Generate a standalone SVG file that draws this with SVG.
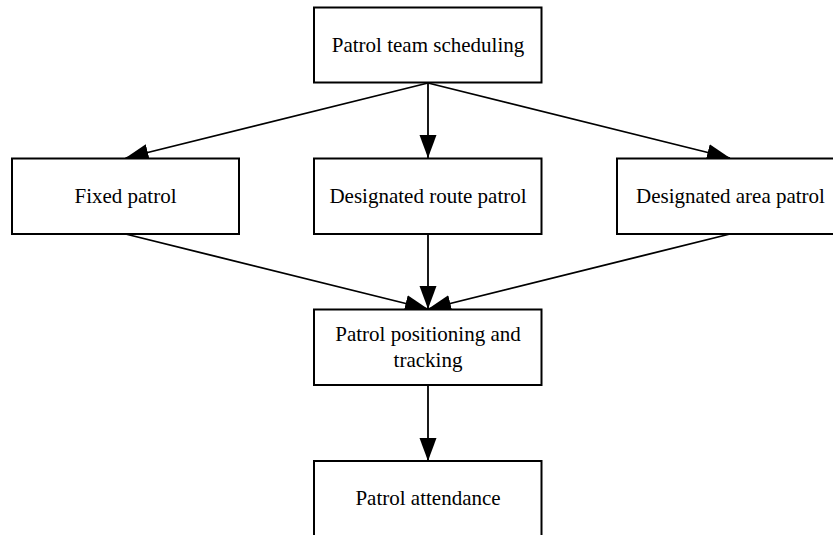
<svg xmlns="http://www.w3.org/2000/svg" width="833" height="535" viewBox="0 0 833 535">
<defs>
<style>
.box{fill:#fff;stroke:#000;stroke-width:2}
.lbl{font-family:"Liberation Serif","Times New Roman",serif;font-size:21px;fill:#000;text-anchor:middle}
.edge{stroke:#000;stroke-width:1.8;fill:none;marker-end:url(#ah)}
</style>
<marker id="ah" markerUnits="userSpaceOnUse" markerWidth="24" markerHeight="18" refX="23" refY="8.5" orient="auto">
<path d="M0,0 L23,8.5 L0,17 Z" fill="#000"/>
</marker>
</defs>
<rect width="833" height="535" fill="#fff"/>
<g id="connectors">
<path class="edge" d="M428,83 L125.5,158"/>
<path class="edge" d="M428,83 L428,158"/>
<path class="edge" d="M428,83 L730,158"/>
<path class="edge" d="M125.5,234 L428,309"/>
<path class="edge" d="M428,234 L428,309"/>
<path class="edge" d="M730,234 L428,309"/>
<path class="edge" d="M428,385 L428,461"/>
</g>
<g id="n_schedule">
<rect class="box" x="314" y="7.5" width="227.5" height="75"/>
<text class="lbl" x="428" y="52">Patrol team scheduling</text>
</g>
<g id="n_fixed">
<rect class="box" x="12" y="158.5" width="227" height="75.5"/>
<text class="lbl" x="125.5" y="203">Fixed patrol</text>
</g>
<g id="n_route">
<rect class="box" x="314" y="158.5" width="227.5" height="75.5"/>
<text class="lbl" x="428" y="203">Designated route patrol</text>
</g>
<g id="n_area">
<rect class="box" x="617" y="158.5" width="227" height="75.5"/>
<text class="lbl" x="730.5" y="203">Designated area patrol</text>
</g>
<g id="n_tracking">
<rect class="box" x="314" y="309.5" width="227.5" height="75.5"/>
<text class="lbl" x="428" y="341">Patrol positioning and</text>
<text class="lbl" x="428" y="367">tracking</text>
</g>
<g id="n_attendance">
<rect class="box" x="314" y="461" width="227.5" height="76"/>
<text class="lbl" x="428" y="505">Patrol attendance</text>
</g>
</svg>
